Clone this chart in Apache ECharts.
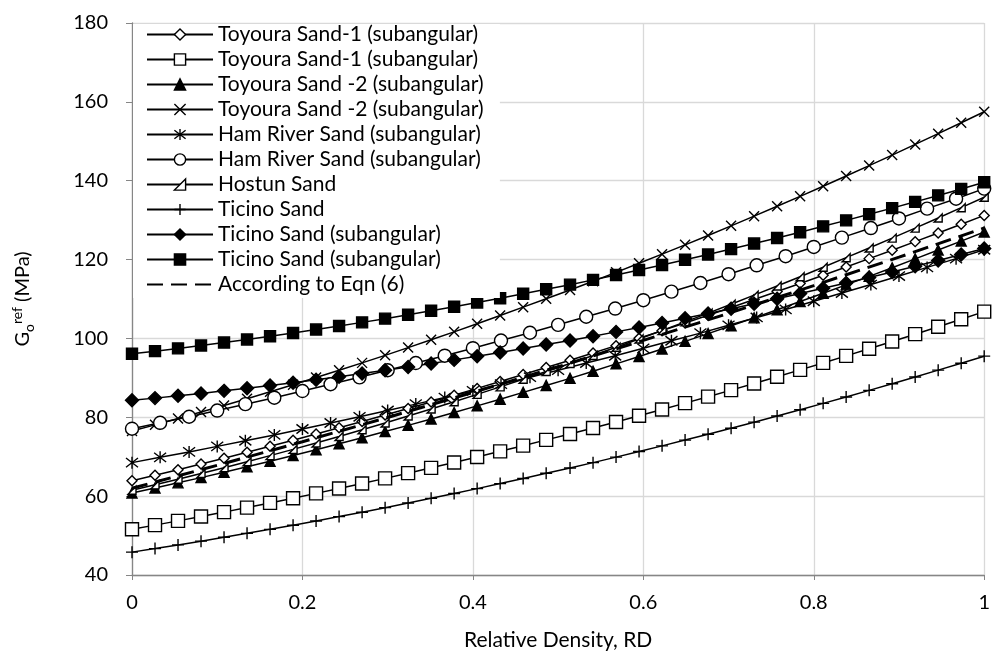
<!DOCTYPE html>
<html>
<head>
<meta charset="utf-8">
<script src="https://cdn.jsdelivr.net/npm/echarts@6/dist/echarts.min.js"></script>
<style>
  html, body { margin: 0; padding: 0; background: #fff; }
  #chart { width: 993px; height: 657px; }
</style>
</head>
<body>
<div id="chart"></div>
<script>
// Relative density sampling used by the test series
const rd37 = [0, 0.027, 0.054, 0.081, 0.108, 0.135, 0.162, 0.189, 0.216, 0.243,
  0.270, 0.297, 0.324, 0.351, 0.378, 0.405, 0.432, 0.459, 0.486, 0.514,
  0.541, 0.568, 0.595, 0.622, 0.649, 0.676, 0.703, 0.730, 0.757, 0.784,
  0.811, 0.838, 0.865, 0.892, 0.919, 0.946, 0.973, 1];
const rd30 = [0, 0.033, 0.067, 0.1, 0.133, 0.167, 0.2, 0.233, 0.267, 0.3,
  0.333, 0.367, 0.4, 0.433, 0.467, 0.5, 0.533, 0.567, 0.6, 0.633,
  0.667, 0.7, 0.733, 0.767, 0.8, 0.833, 0.867, 0.9, 0.933, 0.967, 1];
const rdEqn = [0, 0.1, 0.2, 0.3, 0.4, 0.5, 0.6, 0.7, 0.8, 0.9, 1];

// Go_ref (MPa)
const toyoura1A = [63.9, 65.3, 66.72, 68.16, 69.63, 71.12, 72.64, 74.18, 75.74, 77.33,
  78.93, 80.57, 82.22, 83.9, 85.6, 87.33, 89.08, 90.85, 92.64, 94.46,
  96.3, 98.17, 100.06, 101.97, 103.91, 105.87, 107.85, 109.86, 111.89, 113.94,
  116.01, 118.11, 120.24, 122.38, 124.55, 126.74, 128.96, 131.2];
const toyoura1B = [51.6, 52.65, 53.73, 54.83, 55.95, 57.1, 58.28, 59.47, 60.7, 61.94,
  63.22, 64.51, 65.83, 67.18, 68.55, 69.94, 71.36, 72.8, 74.27, 75.76,
  77.28, 78.82, 80.38, 81.97, 83.59, 85.23, 86.89, 88.58, 90.29, 92.03,
  93.79, 95.57, 97.38, 99.22, 101.08, 102.96, 104.87, 106.8];
const toyoura2A = [60.8, 62.07, 63.37, 64.7, 66.06, 67.44, 68.86, 70.3, 71.78, 73.28,
  74.81, 76.37, 77.95, 79.57, 81.22, 82.89, 84.59, 86.32, 88.08, 89.87,
  91.69, 93.54, 95.41, 97.32, 99.25, 101.21, 103.2, 105.22, 107.27, 109.35,
  111.45, 113.59, 115.75, 117.94, 120.17, 122.41, 124.69, 127.0];
const toyoura2B = [76.5, 78.08, 79.69, 81.33, 83.01, 84.72, 86.47, 88.25, 90.07, 91.91,
  93.8, 95.71, 97.67, 99.65, 101.67, 103.72, 105.81, 107.93, 110.08, 112.27,
  114.5, 116.76, 119.05, 121.37, 123.73, 126.12, 128.55, 131.01, 133.51, 136.04,
  138.6, 141.2, 143.83, 146.5, 149.2, 151.93, 154.7, 157.5];
const hamRiverA = [68.5, 69.84, 71.22, 72.62, 74.06, 75.53, 77.03, 78.56, 80.12, 81.72,
  83.34, 85.0, 86.69, 88.41, 90.17, 91.95, 93.77, 95.61, 97.49, 99.4,
  101.34, 103.32, 105.32, 107.36, 109.43, 111.53, 113.66, 115.82, 118.02, 120.24, 122.5];
const hamRiverB = [77.1, 78.6, 80.14, 81.71, 83.33, 84.97, 86.66, 88.38, 90.13, 91.93,
  93.76, 95.62, 97.52, 99.46, 101.44, 103.45, 105.5, 107.58, 109.7, 111.86,
  114.06, 116.29, 118.55, 120.86, 123.2, 125.57, 127.99, 130.43, 132.92, 135.44, 138.0];
const hostun = [61.5, 62.87, 64.28, 65.73, 67.21, 68.72, 70.28, 71.86, 73.48, 75.14,
  76.83, 78.55, 80.32, 82.11, 83.95, 85.81, 87.72, 89.65, 91.63, 93.63,
  95.68, 97.76, 99.87, 102.02, 104.2, 106.42, 108.68, 110.97, 113.29, 115.65,
  118.05, 120.48, 122.94, 125.44, 127.98, 130.55, 133.16, 135.8];
const ticino = [45.8, 46.7, 47.63, 48.58, 49.56, 50.56, 51.58, 52.63, 53.71, 54.81,
  55.93, 57.08, 58.25, 59.44, 60.67, 61.91, 63.18, 64.47, 65.79, 67.14,
  68.5, 69.9, 71.31, 72.75, 74.22, 75.71, 77.22, 78.76, 80.33, 81.91,
  83.53, 85.16, 86.83, 88.51, 90.22, 91.96, 93.72, 95.5];
const ticinoA = [84.3, 84.86, 85.45, 86.06, 86.7, 87.36, 88.06, 88.78, 89.52, 90.3,
  91.1, 91.92, 92.78, 93.66, 94.56, 95.5, 96.46, 97.44, 98.46, 99.5,
  100.57, 101.66, 102.78, 103.93, 105.1, 106.3, 107.53, 108.79, 110.07, 111.38,
  112.71, 114.07, 115.46, 116.87, 118.31, 119.78, 121.28, 122.8];
const ticinoB = [96.1, 96.77, 97.47, 98.2, 98.95, 99.74, 100.55, 101.39, 102.25, 103.15,
  104.07, 105.02, 106.0, 107.01, 108.04, 109.11, 110.2, 111.32, 112.47, 113.64,
  114.85, 116.08, 117.34, 118.63, 119.94, 121.29, 122.66, 124.06, 125.49, 126.94,
  128.43, 129.94, 131.48, 133.05, 134.64, 136.27, 137.92, 139.6];
const eqn6 = [62.0, 67.81, 73.8, 79.96, 86.3, 92.81, 99.5, 106.36, 113.4, 120.61, 128.0];

const xTicks = { min: 0, max: 1, interval: 0.2 };
const yTicks = { min: 40, max: 180, interval: 20 };

const FONT = 'Lato';
const pair = (xs, ys) => xs.map((x, i) => [x, ys[i]]);

// stroked marker shapes
const PLUS = 'path://M5,0L5,10M0,5L10,5';
const CROSS = 'path://M0,0L10,10M10,0L0,10';
const STAR = 'path://M0,0L10,10M10,0L0,10M5,-1.5L5,11.5';
const RTRI = 'path://M0,10L10,10L10,0Z';

function mk(name, xs, ys, symbol, size, filled) {
  return {
    type: 'line',
    name: name,
    data: pair(xs, ys),
    symbol: symbol,
    symbolSize: size,
    showSymbol: true,
    lineStyle: { color: '#000', width: 1.5 },
    itemStyle: { color: filled ? '#000' : '#fff', borderColor: '#000', borderWidth: 1.4 },
    emphasis: { disabled: true },
    z: 2
  };
}

const series = [
  mk('Toyoura Sand-1 (subangular)', rd37, toyoura1A, 'diamond', 10, false),
  mk('Toyoura Sand-1 (subangular) ', rd37, toyoura1B, 'rect', 13, false),
  mk('Toyoura Sand -2 (subangular)', rd37, toyoura2A, 'triangle', 10, true),
  mk('Toyoura Sand -2 (subangular) ', rd37, toyoura2B, CROSS, 10, false),
  mk('Ham River Sand (subangular)', rd30, hamRiverA, STAR, 12, false),
  mk('Ham River Sand (subangular) ', rd30, hamRiverB, 'circle', 13, false),
  mk('Hostun Sand', rd37, hostun, RTRI, 8, false),
  mk('Ticino Sand', rd37, ticino, PLUS, 12, false),
  mk('Ticino Sand (subangular)', rd37, ticinoA, 'diamond', 13, true),
  mk('Ticino Sand (subangular) ', rd37, ticinoB, 'rect', 11, true),
  {
    type: 'line',
    name: 'According to Eqn (6)',
    data: pair(rdEqn, eqn6),
    symbol: 'none',
    showSymbol: false,
    lineStyle: { color: '#000', width: 3, type: [16, 8] },
    itemStyle: { color: 'transparent', borderColor: 'transparent' },
    emphasis: { disabled: true },
    z: 3
  }
];

const chart = echarts.init(document.getElementById('chart'), null, { renderer: 'canvas' });
chart.setOption({
  animation: false,
  backgroundColor: '#fff',
  textStyle: { fontFamily: FONT, color: '#000' },
  grid: { left: 132, right: 5, top: 23, bottom: 82, containLabel: false },
  legend: {
    orient: 'vertical',
    left: 133,
    top: 24,
    padding: [0, 11, 3, 13],
    backgroundColor: '#fff',
    itemWidth: 66,
    itemHeight: 14,
    itemGap: 4,
    selectedMode: false,
    textStyle: { fontFamily: FONT, fontSize: 21, color: '#000', lineHeight: 20 },
    itemStyle: { borderWidth: 1.4 },
    data: series.map(s => s.name),
    z: 10
  },
  xAxis: {
    type: 'value',
    min: xTicks.min, max: xTicks.max, interval: xTicks.interval,
    name: 'Relative Density, RD',
    nameLocation: 'middle',
    nameGap: 55,
    nameTextStyle: { fontFamily: FONT, fontSize: 21, color: '#000' },
    axisLine: { show: true, lineStyle: { color: '#868686', width: 1.3 } },
    axisTick: { show: true, inside: false, length: 5, lineStyle: { color: '#868686' } },
    axisLabel: { fontFamily: FONT, fontSize: 20, color: '#000', margin: 18 },
    splitLine: { show: true, lineStyle: { color: '#d9d9d9', width: 1.3 } }
  },
  yAxis: {
    type: 'value',
    min: yTicks.min, max: yTicks.max, interval: yTicks.interval,
    name: '{g|G}{sub|o}{sup|ref}{g| (MPa)}',
    nameLocation: 'middle',
    nameRotate: 90,
    nameGap: 94,
    nameTextStyle: {
      rich: {
        g: { fontFamily: FONT, fontSize: 20, color: '#000', lineHeight: 30, verticalAlign: 'middle' },
        sub: { fontFamily: FONT, fontSize: 14, color: '#000', lineHeight: 30, verticalAlign: 'bottom', padding: [0, 0, 2, 0] },
        sup: { fontFamily: FONT, fontSize: 14, color: '#000', lineHeight: 30, verticalAlign: 'top', padding: [2, 0, 0, 0] }
      }
    },
    axisLine: { show: true, lineStyle: { color: '#868686', width: 1.3 } },
    axisTick: { show: true, inside: false, length: 6, lineStyle: { color: '#868686' } },
    axisLabel: { fontFamily: FONT, fontSize: 20, color: '#000', margin: 24 },
    splitLine: { show: true, lineStyle: { color: '#d9d9d9', width: 1.3 } }
  },
  series: series
});
</script>
</body>
</html>
